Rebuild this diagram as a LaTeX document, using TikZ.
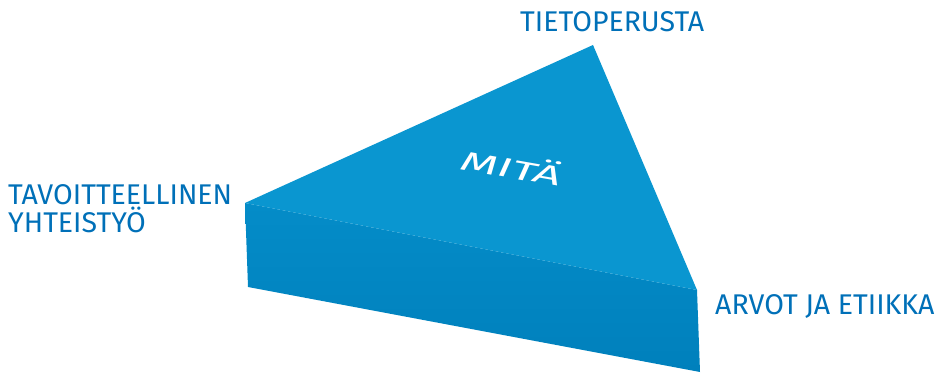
\documentclass[tikz,border=0pt]{standalone}
\usepackage{fontspec}
\setmainfont{Fira Sans}
\usetikzlibrary{positioning}
\definecolor{topblue}{RGB}{10,150,208}
\definecolor{sidetop}{RGB}{4,140,200}
\definecolor{sidebot}{RGB}{0,128,188}
\definecolor{labelblue}{RGB}{0,112,184}
\begin{document}
\begin{tikzpicture}[x=1pt,y=-1pt,
    label/.style={text=labelblue, font=\fontsize{28.5}{28}\selectfont, inner sep=0pt, align=left}]
        \useasboundingbox (0,0) rectangle (945,374);

        % Prism faces
        \shade[top color=sidetop, bottom color=sidebot] (245,203) -- (697,290) -- (700,372) -- (248,287) -- cycle;
        \fill[topblue] (593,45) -- (697,290) -- (245,203) -- cycle;

        % Text on the top face
        \node[text=white, font=\fontsize{27}{27}\selectfont\itshape, rotate=-10, xscale=1.8, inner sep=0pt] (mita) at (512,166) {MITÄ};

        % Labels
        \node[label, anchor=base west] (tieto) at (520,32) {TIETOPERUSTA};
        \node[label, anchor=base west] (tavoite) at (8,233) {TAVOITTEELLINEN\\YHTEISTYÖ};
        \node[label, anchor=base west] (arvot) at (715,314) {ARVOT JA ETIIKKA};
    \end{tikzpicture}
\end{document}
